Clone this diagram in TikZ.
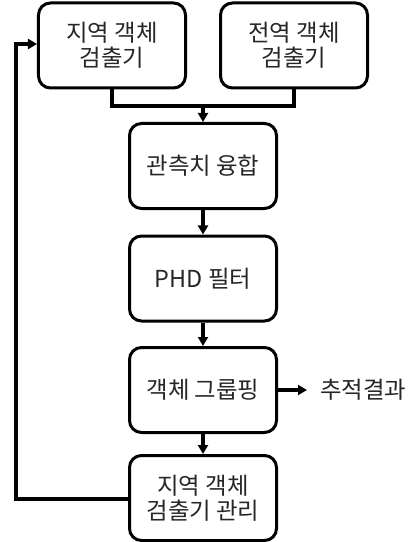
\documentclass[tikz,border=0pt]{standalone}
\usepackage{fontspec}
\setmainfont{Noto Sans CJK KR}
\usetikzlibrary{arrows.meta}
\begin{document}
\begin{tikzpicture}[x=1bp,y=-1bp,
  txt/.style={font=\fontsize{23.5}{25.5}\selectfont, text=black!85},
  blk/.style={txt, draw=black, line width=3bp, rounded corners=12bp, minimum width=147bp, minimum height=85bp, align=center, inner sep=0pt},
  conn/.style={line width=3.4bp, -{Triangle[length=9bp,width=10bp]}},
  plain/.style={line width=3.4bp}]
\useasboundingbox (0,0) rectangle (417,542);
\node[blk] (b1) at (112,45.5) {지역 객체\\검출기};
\node[blk] (b2) at (294,45.5) {전역 객체\\검출기};
\node[blk] (b3) at (203,166) {관측치 융합};
\node[blk] (b4) at (203,278.5) {PHD 필터};
\node[blk] (b5) at (203,390) {객체 그룹핑};
\node[blk] (b6) at (203,498) {지역 객체\\검출기 관리};
\node[txt, anchor=west, inner sep=0pt] (out) at (320,390) {추적결과};
\coordinate (j) at (203,106);
\coordinate (fb) at (16,499);
\draw[plain] (b1.south) |- (j) -| (b2.south);
\draw[conn] (j) -- (b3.north);
\draw[conn] (b3) -- (b4);
\draw[conn] (b4) -- (b5);
\draw[conn] (b5) -- (b6);
\draw[conn] (b5.east) -- ++(29,0) coordinate (oe);
\draw[conn] (b6.west |- fb) -- (fb) |- ([yshift=1.5bp]b1.west);
\end{tikzpicture}
\end{document}
